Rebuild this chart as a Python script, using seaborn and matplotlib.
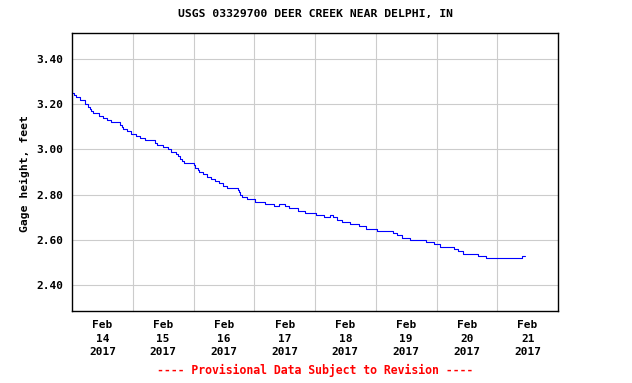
import numpy as np
import pandas as pd
import matplotlib
matplotlib.use("Agg")
import matplotlib.pyplot as plt
import seaborn as sns

# Gage height readings: hours after 2017-02-14 00:00 where the level changes
hours = [0.0, 0.8, 1.6, 3.2, 5.0, 5.3, 6.3, 7.1, 7.6, 8.4, 10.8, 12.4, 13.7, 15.3,
         19.0, 19.8, 20.3, 21.6, 23.5, 25.3, 26.9, 28.7, 32.9, 33.7, 36.1, 38.0,
         39.3, 40.9, 41.7, 42.7, 43.5, 44.3, 48.0, 48.5, 49.6, 50.3, 51.7, 53.3,
         54.9, 56.4, 58.0, 59.7, 61.3, 65.4, 65.8, 66.2, 67.2, 69.3, 72.2, 76.2,
         79.9, 81.7, 84.3, 85.9, 89.1, 92.2, 96.2, 99.6, 102.0, 103.3, 104.7, 106.8,
         109.9, 113.3, 116.2, 120.5, 127.0, 128.5, 130.5, 133.6, 140.0, 143.1,
         145.5, 151.0, 152.4, 154.5, 160.5, 163.7, 177.7, 178.8]
gage_ft = [3.25, 3.24, 3.23, 3.22, 3.21, 3.20, 3.19, 3.18, 3.17, 3.16, 3.15, 3.14, 3.13, 3.12,
           3.11, 3.10, 3.09, 3.08, 3.07, 3.06, 3.05, 3.04, 3.03, 3.02, 3.01, 3.00,
           2.99, 2.98, 2.97, 2.96, 2.95, 2.94, 2.93, 2.92, 2.91, 2.90, 2.89, 2.88,
           2.87, 2.86, 2.85, 2.84, 2.83, 2.82, 2.81, 2.80, 2.79, 2.78, 2.77, 2.76,
           2.75, 2.76, 2.75, 2.74, 2.73, 2.72, 2.71, 2.70, 2.71, 2.70, 2.69, 2.68,
           2.67, 2.66, 2.65, 2.64, 2.63, 2.62, 2.61, 2.60, 2.59, 2.58,
           2.57, 2.56, 2.55, 2.54, 2.53, 2.52, 2.53, 2.53]

day_labels = ["Feb\n14\n2017", "Feb\n15\n2017", "Feb\n16\n2017", "Feb\n17\n2017",
              "Feb\n18\n2017", "Feb\n19\n2017", "Feb\n20\n2017", "Feb\n21\n2017"]
y_ticks = [2.40, 2.60, 2.80, 3.00, 3.20, 3.40]

start = pd.Timestamp("2017-02-14 00:00")
df = pd.DataFrame({"time": start + pd.to_timedelta(hours, unit="h"), "gage": gage_ft})

sns.set_style("white")
plt.rcParams["font.family"] = ["DejaVu Sans Mono"]
plt.rcParams["font.weight"] = "bold"
plt.rcParams["text.color"] = "black"
plt.rcParams["xtick.color"] = "black"
plt.rcParams["ytick.color"] = "black"

fig = plt.figure(figsize=(6.32, 3.83), dpi=100)
ax = fig.add_axes([72 / 632, 72 / 383, 486 / 632, 278 / 383])

sns.lineplot(data=df, x="time", y="gage", drawstyle="steps-post", color="#0000ff",
             lw=0.8, ax=ax)

ax.set_xlim(start, start + pd.Timedelta(days=8))
ax.set_ylim(2.286, 3.515)

# grid on midnights, labels at noon
midnights = [start + pd.Timedelta(days=i) for i in range(1, 8)]
noons = [start + pd.Timedelta(days=i, hours=12) for i in range(8)]
ax.set_xticks(midnights)
ax.set_xticklabels([])
ax.set_xticks(noons, minor=True)
ax.set_xticklabels(day_labels, minor=True, fontsize=8, fontweight="bold",
                   linespacing=1.45, color="black")
ax.set_yticks(y_ticks)
ax.set_yticklabels(["%.2f" % v for v in y_ticks], fontsize=8, fontweight="bold",
                   color="black")
ax.tick_params(which="both", length=0)
ax.tick_params(axis="y", pad=6)
ax.tick_params(axis="x", which="minor", pad=6.5)
ax.grid(True, which="major", color="#cccccc", lw=0.8)
ax.set_xlabel("")
ax.set_ylabel("")
for s in ax.spines.values():
    s.set_color("black")
    s.set_linewidth(1.0)

fig.text(315 / 632, 1 - 14 / 383, "USGS 03329700 DEER CREEK NEAR DELPHI, IN",
         ha="center", va="center", fontsize=8.2, fontweight="bold", color="black")
fig.text(25 / 632, 1 - 174 / 383, "Gage height, feet", rotation=90,
         ha="center", va="center", fontsize=8.2, fontweight="bold", color="black")
fig.text(315 / 632, 1 - 370 / 383, "---- Provisional Data Subject to Revision ----",
         ha="center", va="center", fontsize=8.3, fontweight="bold", color="red")

fig.savefig("out.png", dpi=100)
plt.close(fig)
